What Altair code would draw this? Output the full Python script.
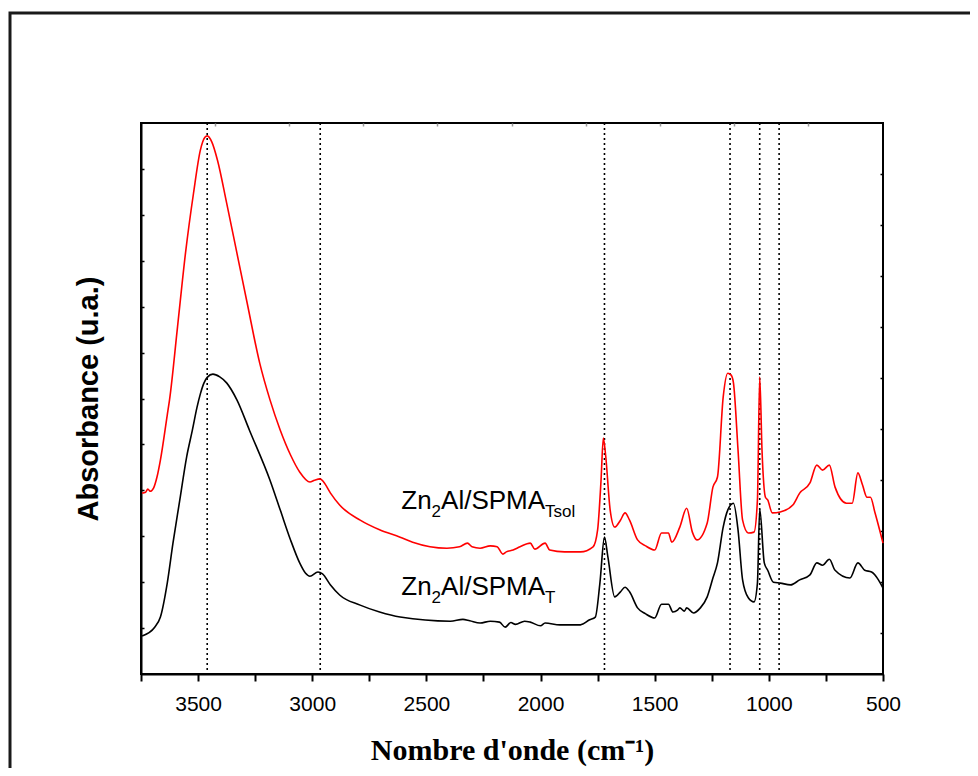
import altair as alt
import pandas as pd

# ---------------- data ----------------
red_wn = [3745, 3730, 3720, 3710, 3695, 3680, 3665, 3635, 3625, 3590, 3555, 3520, 3490, 3470,
          3460, 3440, 3415, 3375, 3330, 3285, 3230, 3185, 3140, 3095, 3055, 3010, 2990, 2965,
          2950, 2920, 2880, 2790, 2705, 2615, 2560, 2410, 2355, 2320, 2300, 2265, 2220, 2190,
          2165, 2150, 2120, 2090, 2045, 2025, 1980, 1960, 1895, 1825, 1770, 1750, 1735, 1725,
          1715, 1695, 1675, 1650, 1630, 1610, 1575, 1540, 1500, 1470, 1440, 1425, 1390, 1360,
          1335, 1315, 1270, 1245, 1225, 1200, 1180, 1165, 1155, 1135, 1115, 1090, 1065, 1050,
          1040, 1030, 1015, 1005, 985, 950, 895, 865, 820, 790, 765, 735, 710, 660, 635, 610,
          590, 570, 555, 535, 515, 500]
red_abs = [0.394, 0.396, 0.403, 0.398, 0.405, 0.429, 0.466, 0.564, 0.597, 0.756, 0.917, 1.047,
           1.141, 1.169, 1.172, 1.159, 1.119, 1.026, 0.917, 0.808, 0.677, 0.597, 0.531, 0.477,
           0.440, 0.418, 0.422, 0.425, 0.418, 0.394, 0.368, 0.335, 0.314, 0.298, 0.287, 0.274,
           0.277, 0.285, 0.277, 0.274, 0.279, 0.277, 0.261, 0.266, 0.270, 0.277, 0.285, 0.272,
           0.285, 0.270, 0.266, 0.266, 0.277, 0.314, 0.422, 0.514, 0.477, 0.357, 0.320, 0.335,
           0.351, 0.335, 0.292, 0.279, 0.270, 0.307, 0.307, 0.287, 0.320, 0.361, 0.309, 0.292,
           0.329, 0.407, 0.429, 0.603, 0.655, 0.651, 0.634, 0.488, 0.335, 0.307, 0.309, 0.379,
           0.647, 0.488, 0.385, 0.379, 0.351, 0.353, 0.368, 0.394, 0.416, 0.455, 0.444, 0.455,
           0.407, 0.372, 0.372, 0.438, 0.412, 0.385, 0.385, 0.351, 0.314, 0.285]

black_wn = [3745, 3690, 3665, 3635, 3610, 3580, 3550, 3525, 3505, 3490, 3475, 3460, 3435, 3405,
            3375, 3330, 3275, 3185, 3140, 3095, 3055, 3030, 3010, 2975, 2955, 2920, 2880, 2790,
            2705, 2615, 2395, 2340, 2310, 2265, 2220, 2180, 2155, 2130, 2110, 2070, 2045, 2000,
            1980, 1915, 1825, 1785, 1760, 1740, 1720, 1705, 1675, 1650, 1630, 1610, 1575, 1540,
            1500, 1470, 1440, 1420, 1400, 1390, 1370, 1360, 1330, 1300, 1270, 1245, 1225, 1200,
            1180, 1155, 1135, 1115, 1090, 1065, 1050, 1040, 1020, 1005, 980, 950, 905, 865, 820,
            790, 765, 735, 710, 645, 610, 580, 550, 520, 500]
black_abs = [0.083, 0.102, 0.124, 0.198, 0.285, 0.379, 0.473, 0.531, 0.580, 0.610, 0.633, 0.646,
             0.653, 0.647, 0.634, 0.597, 0.531, 0.422, 0.357, 0.292, 0.242, 0.220, 0.213, 0.222,
             0.218, 0.194, 0.172, 0.150, 0.135, 0.124, 0.115, 0.119, 0.116, 0.111, 0.115, 0.113,
             0.102, 0.112, 0.108, 0.115, 0.113, 0.105, 0.111, 0.107, 0.107, 0.118, 0.124, 0.198,
             0.298, 0.255, 0.168, 0.179, 0.189, 0.179, 0.144, 0.131, 0.122, 0.152, 0.152, 0.135,
             0.139, 0.144, 0.137, 0.144, 0.133, 0.144, 0.168, 0.209, 0.242, 0.320, 0.357, 0.372,
             0.314, 0.205, 0.166, 0.157, 0.198, 0.359, 0.242, 0.226, 0.200, 0.198, 0.194, 0.205,
             0.216, 0.242, 0.237, 0.250, 0.226, 0.209, 0.242, 0.226, 0.222, 0.205, 0.187]

marker_wn = [3460, 2965, 1720, 1170, 1040, 955]

label_wn = [2610, 2610]
label_abs = [0.359, 0.172]
label_part1 = ["Zn", "Zn"]
label_part2 = ["2", "2"]
label_part3 = ["Al/SPMA", "Al/SPMA"]
label_part4 = ["Tsol", "T"]

x_tick_values = [3750, 3500, 3250, 3000, 2750, 2500, 2250, 2000, 1750, 1500, 1250, 1000, 750, 500]
left_tick_values = [0.1, 0.2, 0.3, 0.4, 0.5, 0.6, 0.7, 0.8, 0.9, 1.0, 1.1]
right_tick_values = [0.089, 0.200, 0.311, 0.422, 0.533, 0.645, 0.756, 0.867, 0.978, 1.089]
top_tick_values = [3425, 3101, 2776, 2452, 2127, 1802, 1478, 1153, 829]

# ---------------- frames ----------------
red_df = pd.DataFrame({"wn": red_wn, "ab": red_abs})
black_df = pd.DataFrame({"wn": black_wn, "ab": black_abs})
marker_df = pd.DataFrame({"wn": marker_wn})
label_df = pd.DataFrame({"wn": label_wn, "ab": label_abs, "p1": label_part1,
                         "p2": label_part2, "p3": label_part3, "p4": label_part4})

XS = alt.Scale(domain=[500, 3750], reverse=True, nice=False, zero=False)
YS = alt.Scale(domain=[0, 1.2], nice=False, zero=False)

SANS = "Liberation Sans"
SERIF = "Liberation Serif"

x_main_axis = alt.Axis(
    orient="bottom", values=x_tick_values, format="d",
    labelExpr="datum.value % 500 === 0 ? datum.label : ''",
    tickSize=7, tickWidth=2, tickColor="black",
    domainColor="black", domainWidth=2,
    labelFont=SANS, labelFontSize=21, labelColor="black", labelPadding=12,
    labelOverlap=False, labelFlush=False, grid=False,
    title="Nombre d'onde (cm⁻¹)", titleFont=SERIF, titleFontSize=30,
    titleFontWeight="bold", titleColor="black", titlePadding=21,
)
y_main_axis = alt.Axis(
    orient="left", ticks=False, labels=False, grid=False,
    domainColor="black", domainWidth=2,
    title="Absorbance (u.a.)", titleFont=SANS, titleFontSize=29,
    titleFontWeight="bold", titleColor="black", titlePadding=38,
)

# dotted marker lines
rules = alt.Chart(marker_df).mark_rule(color="black", strokeWidth=1.6, strokeDash=[2, 3]).encode(
    x=alt.X("wn:Q", scale=XS, axis=None)
)

red_line = alt.Chart(red_df).mark_line(
    color="#ff0000", strokeWidth=1.6, interpolate="monotone"
).encode(
    x=alt.X("wn:Q", scale=XS, axis=x_main_axis),
    y=alt.Y("ab:Q", scale=YS, axis=y_main_axis),
    order=alt.Order("wn:Q", sort="descending"),
)

# black line also carries the inward ticks on the left side and top
black_line = alt.Chart(black_df).mark_line(
    color="black", strokeWidth=1.6, interpolate="monotone"
).encode(
    x=alt.X("wn:Q", scale=XS, axis=alt.Axis(
        orient="bottom", offset=-551, values=top_tick_values, labels=False, domain=False,
        tickSize=3, tickWidth=1.5, tickColor="#999999", grid=False, title=None)),
    y=alt.Y("ab:Q", scale=YS, axis=alt.Axis(
        orient="right", offset=-742, values=left_tick_values, labels=False, domain=False,
        tickSize=3, tickWidth=1.5, tickColor="black", grid=False, title=None)),
    order=alt.Order("wn:Q", sort="descending"),
)

def label_layer(field, dx, dy, size, right_axis=False):
    if right_axis:
        y_axis = alt.Axis(orient="left", offset=-742, values=right_tick_values, labels=False,
                          domain=False, tickSize=3, tickWidth=1.5, tickColor="black",
                          grid=False, title=None)
    else:
        y_axis = None
    return alt.Chart(label_df).mark_text(
        align="left", baseline="alphabetic", font=SANS, fontSize=size, color="black",
        dx=dx, dy=dy,
    ).encode(
        x=alt.X("wn:Q", scale=XS, axis=None),
        y=alt.Y("ab:Q", scale=YS, axis=y_axis),
        text=f"{field}:N",
    )

t1 = label_layer("p1", 0, 0, 26, right_axis=True)
t2 = label_layer("p2", 30.3, 8, 17)
t3 = label_layer("p3", 39.8, 0, 26)
t4 = label_layer("p4", 143.8, 8, 17)

frame = alt.Chart(pd.DataFrame({"a": [0]})).mark_rect(
    filled=False, stroke="#1a1a1a", strokeWidth=3
).encode(
    x=alt.value(-131), x2=alt.value(1500), y=alt.value(-110), y2=alt.value(1500)
)

chart = alt.layer(frame, rules, red_line, black_line, t1, t2, t3, t4).resolve_axis(
    x="independent", y="independent"
).properties(
    width=742, height=551,
    autosize=alt.AutoSizeParams(type="none"),
    padding={"left": 133, "top": 115, "right": 87, "bottom": 94},
    background="white",
).configure_view(stroke="black", strokeWidth=2)

chart.save("out.html", embed_options={"renderer": "svg", "actions": False})
